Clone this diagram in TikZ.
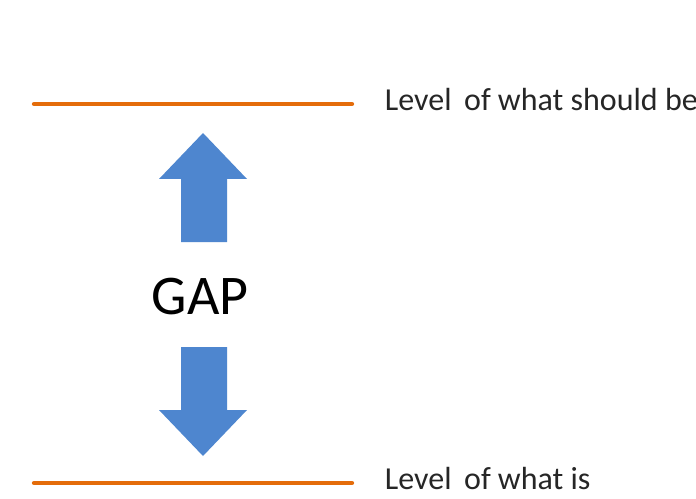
\documentclass[tikz,border=0pt]{standalone}
\usepackage{fontspec}
\setmainfont{Carlito}
\usetikzlibrary{positioning}

\definecolor{levelorange}{RGB}{228,108,10}
\definecolor{gapblue}{RGB}{78,134,207}

\begin{document}
\begin{tikzpicture}[
        x=0.75pt, y=-0.75pt,
        level/.style={draw=levelorange, line width=3.2pt, line cap=round},
        levelnote/.style={
            inner sep=0pt,
            text=black!85,
            font=\fontsize{24}{28}\selectfont
        },
        gaptext/.style={
            inner sep=0pt,
            text=black,
            font=\fontsize{42}{48}\selectfont
        },
        gaparrow/.style={fill=gapblue}
    ]
        \useasboundingbox[fill=white] (0,0) rectangle (696,499);

        % the two levels
        \coordinate (should west) at (34,104);
        \coordinate (should east) at (352,104);
        \coordinate (is west) at (34,483);
        \coordinate (is east) at (352,483);
        \draw[level] (should west) -- (should east);
        \draw[level] (is west) -- (is east);

        \node[levelnote, right=24.5pt of should east, anchor=base west, yshift=-5pt] (should) {Level\, of what should be};
        \node[levelnote, right=24.5pt of is east, anchor=base west, yshift=-5pt] (is) {Level\, of what is};

        % gap in the middle
        \node[gaptext] (gap) at (200,297) {GAP};

        \fill[gaparrow] (203,133) -- (247,179) -- (227,179) -- (227,242)
            -- (181,242) -- (181,179) -- (159,179) -- cycle;
        \fill[gaparrow] (203,456) -- (247,410) -- (227,410) -- (227,347)
            -- (181,347) -- (181,410) -- (159,410) -- cycle;
    \end{tikzpicture}
\end{document}
